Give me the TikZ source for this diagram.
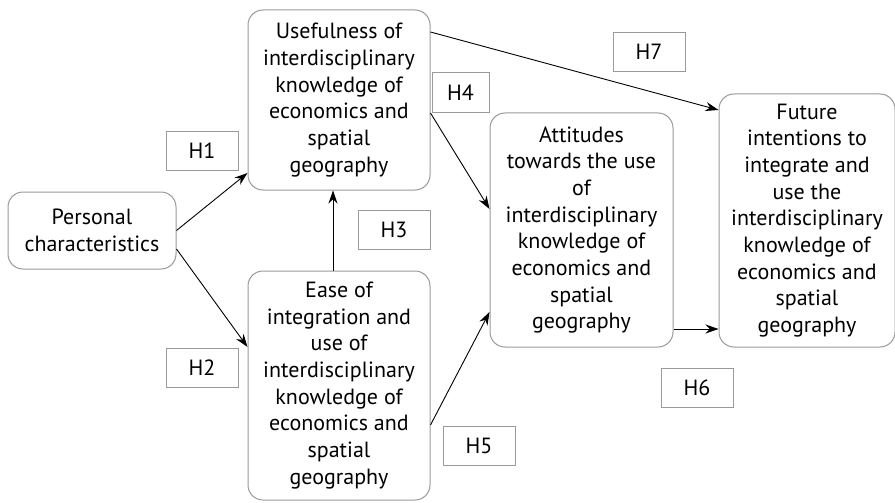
\documentclass[tikz,border=0pt]{standalone}
\usepackage{fontspec}
\setmainfont{PT Sans}
\usetikzlibrary{arrows.meta,calc}
\definecolor{bordergray}{HTML}{9A9A9A}
\tikzset{
  x=1pt,y=1pt,
  bigbox/.style={draw=bordergray, line width=1pt, rounded corners=15pt, align=center, inner sep=0pt,
    font=\fontsize{22}{26.7}\selectfont},
  hbox/.style={draw=bordergray, line width=1pt, inner sep=0pt, minimum width=72pt, minimum height=39pt,
    font=\fontsize{22}{24}\selectfont},
  conn/.style={line width=0.9pt, -{Stealth[length=13pt,width=9pt]}}
}
\begin{document}
\begin{tikzpicture}
\useasboundingbox (0,0) rectangle (895,-503);
\node[bigbox, minimum width=168pt, minimum height=77pt] (pers) at (92,-230.5) {Personal\\characteristics};
\node[bigbox, minimum width=182pt, minimum height=180pt] (use) at (339,-100) {Usefulness of\\interdisciplinary\\knowledge of\\economics and\\spatial\\geography};
\node[bigbox, minimum width=182pt, minimum height=229pt] (ease) at (339,-385.5) {Ease of\\integration and\\use of\\interdisciplinary\\knowledge of\\economics and\\spatial\\geography};
\node[bigbox, minimum width=183pt, minimum height=234pt] (att) at (581.5,-230) {Attitudes\\towards the use\\of\\interdisciplinary\\knowledge of\\economics and\\spatial\\geography};
\node[bigbox, minimum width=176pt, minimum height=253pt] (fut) at (807,-220.5) {Future\\intentions to\\integrate and\\use the\\interdisciplinary\\knowledge of\\economics and\\spatial\\geography};

\node[hbox] (h1) at (202,-151) {H1};
\node[hbox] (h2) at (202,-367.5) {H2};
\node[hbox] (h3) at (394,-230) {H3};
\node[hbox, minimum width=57pt, minimum height=40pt] (h4) at (460.5,-93) {H4};
\node[hbox] (h5) at (479,-446) {H5};
\node[hbox] (h6) at (697,-387.5) {H6};
\node[hbox] (h7) at (649,-52) {H7};

\draw[conn] (pers.east) -- ($(use.west)+(0,-73)$);
\draw[conn] ($(pers.east)+(0,-18.5)$) -- ($(ease.west)+(0,38.5)$);
\draw[conn] ($(ease.north)+(-6,0)$) -- ($(use.south)+(-6,0)$);
\draw[conn] ($(use.east)+(0,-13)$) -- ($(att.west)+(0,21)$);
\draw[conn] ($(ease.east)+(0,-39.5)$) -- ($(att.west)+(0,-82)$);
\coordinate (h6s) at ($(att.east)+(0,-99)$);
\draw[conn] (h6s) -- (h6s -| fut.west);
\draw[conn] ($(use.east)+(0,68)$) -- ($(fut.west)+(0,110.5)$);
\end{tikzpicture}
\end{document}
